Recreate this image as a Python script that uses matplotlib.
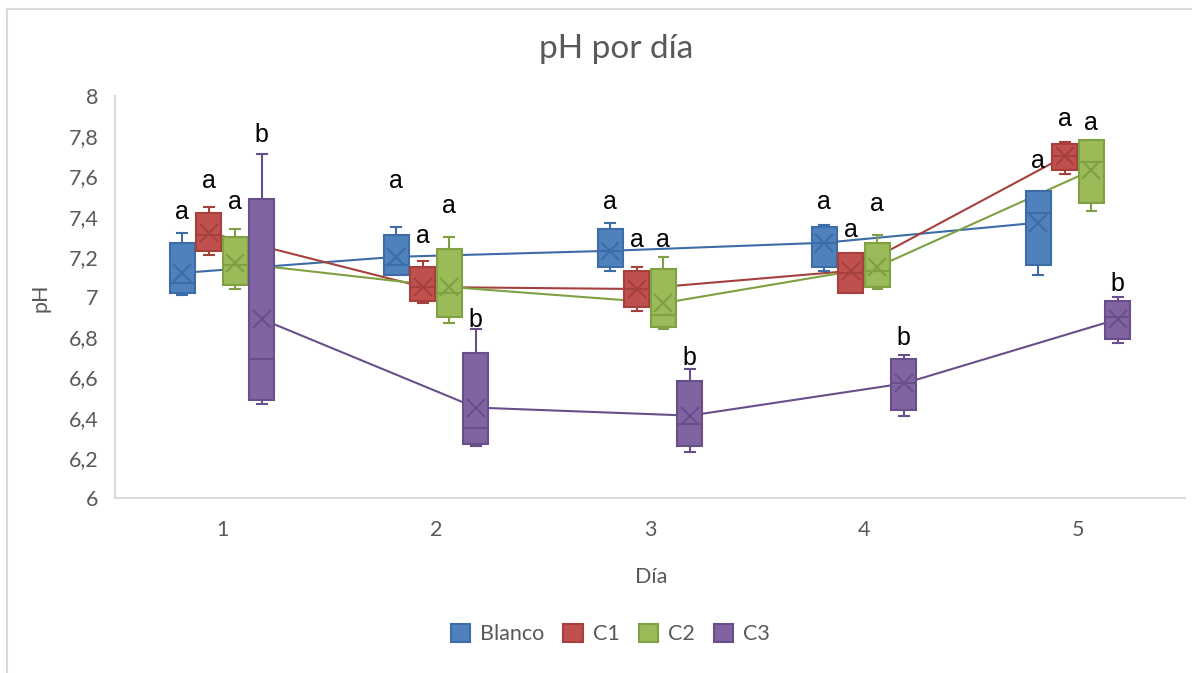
import matplotlib
matplotlib.use('Agg')
import matplotlib.pyplot as plt
from matplotlib.patches import Patch
from matplotlib.lines import Line2D

# datos
dias = [1, 2, 3, 4, 5]
series = ['Blanco', 'C1', 'C2', 'C3']

blanco_min = [7.01, 7.11, 7.13, 7.13, 7.11]
blanco_q1 = [7.02, 7.11, 7.15, 7.15, 7.16]
blanco_med = [7.07, 7.16, 7.23, 7.27, 7.42]
blanco_q3 = [7.27, 7.31, 7.34, 7.35, 7.53]
blanco_max = [7.32, 7.35, 7.37, 7.36, 7.53]
blanco_media = [7.12, 7.20, 7.23, 7.27, 7.37]

c1_min = [7.21, 6.97, 6.93, 7.02, 7.61]
c1_q1 = [7.23, 6.98, 6.95, 7.02, 7.63]
c1_med = [7.31, 7.05, 7.04, 7.12, 7.70]
c1_q3 = [7.42, 7.15, 7.13, 7.22, 7.76]
c1_max = [7.45, 7.18, 7.15, 7.22, 7.77]
c1_media = [7.32, 7.05, 7.04, 7.13, 7.70]

c2_min = [7.04, 6.87, 6.84, 7.04, 7.43]
c2_q1 = [7.06, 6.90, 6.85, 7.05, 7.47]
c2_med = [7.16, 7.02, 6.91, 7.13, 7.67]
c2_q3 = [7.30, 7.24, 7.14, 7.27, 7.78]
c2_max = [7.34, 7.30, 7.20, 7.31, 7.78]
c2_media = [7.17, 7.05, 6.97, 7.15, 7.63]

c3_min = [6.47, 6.26, 6.23, 6.41, 6.77]
c3_q1 = [6.49, 6.27, 6.26, 6.44, 6.79]
c3_med = [6.69, 6.35, 6.37, 6.57, 6.90]
c3_q3 = [7.49, 6.72, 6.58, 6.69, 6.98]
c3_max = [7.71, 6.84, 6.64, 6.71, 7.00]
c3_media = [6.89, 6.45, 6.41, 6.57, 6.89]

# letras de significancia y altura (base del texto)
blanco_letras = ['a', 'a', 'a', 'a', 'a']
c1_letras = ['a', 'a', 'a', 'a', 'a']
c2_letras = ['a', 'a', 'a', 'a', 'a']
c3_letras = ['b', 'b', 'b', 'b', 'b']
blanco_letras_y = [7.39, 7.54, 7.44, 7.44, 7.64]
c1_letras_y = [7.54, 7.27, 7.25, 7.30, 7.85]
c2_letras_y = [7.44, 7.42, 7.25, 7.43, 7.83]
c3_letras_y = [7.77, 6.85, 6.66, 6.76, 7.03]

y_ticks = [6, 6.2, 6.4, 6.6, 6.8, 7, 7.2, 7.4, 7.6, 7.8, 8]
y_tick_labels = ['6', '6,2', '6,4', '6,6', '6,8', '7', '7,2', '7,4', '7,6', '7,8', '8']

datos = {
    'Blanco': (blanco_min, blanco_q1, blanco_med, blanco_q3, blanco_max, blanco_media, blanco_letras, blanco_letras_y),
    'C1': (c1_min, c1_q1, c1_med, c1_q3, c1_max, c1_media, c1_letras, c1_letras_y),
    'C2': (c2_min, c2_q1, c2_med, c2_q3, c2_max, c2_media, c2_letras, c2_letras_y),
    'C3': (c3_min, c3_q1, c3_med, c3_q3, c3_max, c3_media, c3_letras, c3_letras_y),
}

relleno = {'Blanco': '#4F81BD', 'C1': '#C0504D', 'C2': '#9BBB59', 'C3': '#8064A2'}
borde = {'Blanco': '#3D6CA6', 'C1': '#A5403D', 'C2': '#7FA043', 'C3': '#684F8A'}
desplaz = {'Blanco': -0.186, 'C1': -0.062, 'C2': 0.062, 'C3': 0.186}
ancho = 0.117
gris = '#595959'

fig = plt.figure(figsize=(11.92, 6.73), dpi=100)
ax = fig.add_axes([0.0965, 0.26, 0.8977, 0.5973])

for s in series:
    mn, q1, med, q3, mx, media, letras, letras_y = datos[s]
    stats = []
    for i in range(len(dias)):
        stats.append({'whislo': mn[i], 'q1': q1[i], 'med': med[i], 'q3': q3[i],
                      'whishi': mx[i], 'mean': media[i], 'fliers': []})
    pos = [d + desplaz[s] for d in dias]
    ax.bxp(stats, positions=pos, widths=ancho, patch_artist=True, showmeans=True,
           capwidths=0.045, manage_ticks=False,
           boxprops=dict(facecolor=relleno[s], edgecolor=borde[s], linewidth=1.5),
           medianprops=dict(color=borde[s], linewidth=1.5),
           whiskerprops=dict(color=borde[s], linewidth=1.5),
           capprops=dict(color=borde[s], linewidth=1.5),
           meanprops=dict(marker='x', markeredgecolor=borde[s], markersize=13,
                          markeredgewidth=1.5))
    ax.plot(pos, media, color=borde[s], linewidth=1.5, zorder=1.5)
    for x, y, t in zip(pos, letras_y, letras):
        ax.text(x, y, t, ha='center', va='baseline', fontsize=18,
                family='Liberation Sans', color='black')

ax.set_xlim(0.5, 5.5)
ax.set_ylim(6, 8)
ax.set_xticks(dias)
ax.set_xticklabels([str(d) for d in dias])
ax.set_yticks(y_ticks)
ax.set_yticklabels(y_tick_labels)
ax.tick_params(length=0, labelsize=15.5, labelcolor=gris, pad=12)
ax.tick_params(axis='x', pad=16)
for lado in ['top', 'right']:
    ax.spines[lado].set_visible(False)
for lado in ['left', 'bottom']:
    ax.spines[lado].set_color('#D9D9D9')
    ax.spines[lado].set_linewidth(1.5)
for lbl in ax.get_xticklabels() + ax.get_yticklabels():
    lbl.set_family('Lato')

fig.text(0.5165, 0.927, 'pH por día', ha='center', va='center', fontsize=24,
         color=gris, family='Lato')
fig.text(0.546, 0.143, 'Día', ha='center', va='center', fontsize=15.5, color=gris, family='Lato')
fig.text(0.034, 0.558, 'pH', ha='center', va='center', fontsize=15.5, color=gris,
         family='Lato', rotation=90)

handles = [Patch(facecolor=relleno[s], edgecolor=borde[s], linewidth=1.5) for s in series]
fig.legend(handles, series, loc='center', bbox_to_anchor=(0.512, 0.058), ncol=4,
           frameon=False, prop={'family': 'Lato', 'size': 15.5}, labelcolor=gris,
           handlelength=0.9, handleheight=0.9, columnspacing=0.9, handletextpad=0.45)

# borde del area del grafico
fig.add_artist(Line2D([0.006, 0.006], [0.0, 0.987], color='#D9D9D9', linewidth=1.5,
                      transform=fig.transFigure))
fig.add_artist(Line2D([0.006, 1.0], [0.987, 0.987], color='#D9D9D9', linewidth=1.5,
                      transform=fig.transFigure))

fig.savefig('out.png', dpi=100, facecolor='white')
